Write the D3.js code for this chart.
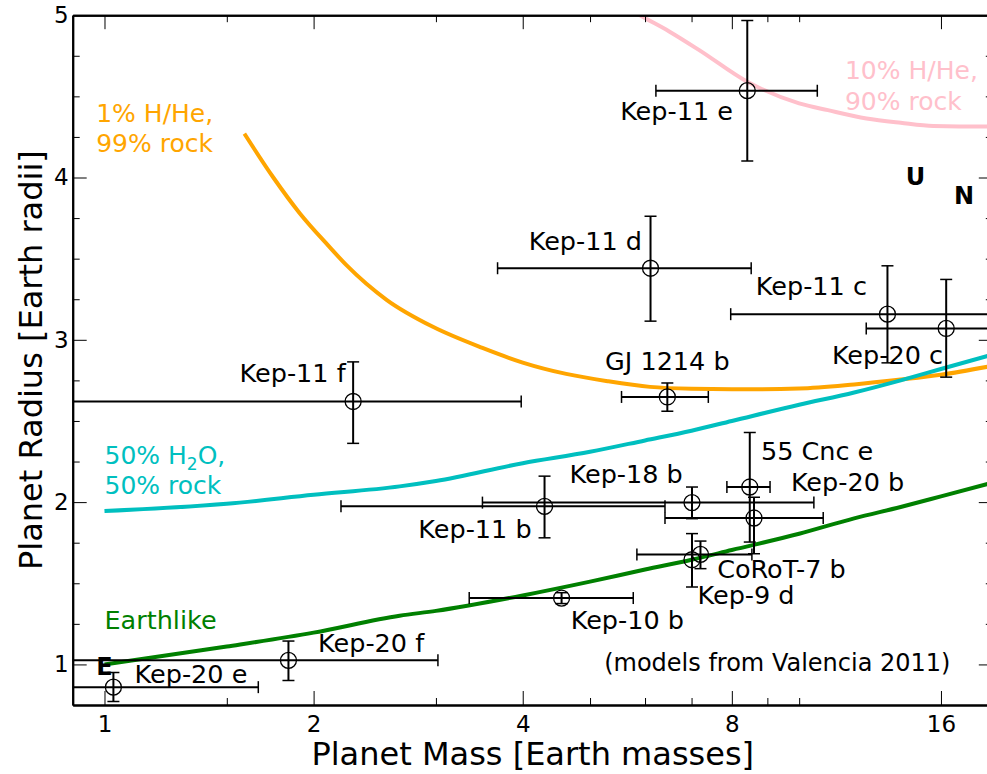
<!DOCTYPE html>
<html>
<head>
<meta charset="utf-8">
<script src="https://cdn.jsdelivr.net/npm/d3@7.9.0/dist/d3.min.js"></script>
<style>
  body { margin: 0; background: #fff; }
  svg { display: block; font-family: 'DejaVu Sans', sans-serif; }
  .axis .domain { stroke: #000; stroke-width: 2; }
  .axis line { stroke: #000; stroke-width: 1; }
  .axis text { font-size: 23px; fill: #000; font-family: 'DejaVu Sans', sans-serif; }
</style>
</head>
<body>
<svg id="chart" width="987" height="774"></svg>
<script>
// measured planets (mass, radius in Earth units, with error bounds)
const names   = ['Kep-11 b', 'Kep-11 c', 'Kep-11 d', 'Kep-11 e', 'Kep-11 f', 'Kep-18 b', 'Kep-20 b', 'Kep-20 c',
                 'Kep-20 e', 'Kep-20 f', 'Kep-10 b', 'Kep-9 d', 'CoRoT-7 b', 'GJ 1214 b', '55 Cnc e'];
const mass    = [4.30, 13.4, 6.11, 8.42, 2.28, 7.01, 8.61, 16.28, 1.03, 1.84, 4.55, 7.01, 7.21, 6.46, 8.49];
const massLo  = [2.19, 7.97, 3.68, 6.22, 0.60, 3.50, 6.41, 12.49, 0.60, 0.60, 3.35, null, 5.84, 5.55, 7.87];
const massHi  = [6.41, 21.0, 8.53, 10.62, 3.98, 10.5, 10.83, 21.0, 1.665, 3.02, 5.77, null, 8.55, 7.40, 9.08];
const radius  = [1.974, 3.158, 3.441, 4.535, 2.62, 1.997, 1.902, 3.07, 0.86, 1.025, 1.409, 1.645, 1.678, 2.648, 2.093];
const radLo   = [1.78, 2.858, 3.115, 4.101, 2.362, 1.898, 1.682, 2.77, 0.772, 0.901, 1.375, 1.477, 1.59, 2.56, 1.754];
const radHi   = [2.16, 3.456, 3.762, 4.967, 2.864, 2.093, 2.03, 3.372, 0.951, 1.144, 1.442, 1.806, 1.76, 2.734, 2.429];

// where each planet name sits (data units) and how it is anchored
const labelMass   = [4.12, 12.52, 5.94, 8.03, 2.224, 6.80, 9.73, 16.11, 1.105, 2.03, 4.69, 7.14, 7.62, 6.46, 8.81];
const labelRad    = [1.781, 3.275, 3.552, 4.354, 2.740, 2.120, 2.067, 2.854, 0.887, 1.076, 1.220, 1.370, 1.535, 2.813, 2.258];
const labelAnchor = ['end', 'end', 'end', 'end', 'end', 'end', 'start', 'end', 'start', 'start', 'start', 'start', 'start', 'middle', 'start'];

// composition models (Valencia 2011)
const earthMass = [1, 1.5, 2, 2.66, 3, 4, 5, 6, 7, 8, 10, 12, 14, 16, 19];
const earthRad  = [1.0, 1.11, 1.196, 1.30, 1.33, 1.425, 1.51, 1.585, 1.645, 1.705, 1.805, 1.90, 1.97, 2.035, 2.12];
const waterMass = [1, 1.5, 2, 2.66, 3, 4, 5, 6, 7, 8, 10, 12, 14, 16, 19];
const waterRad  = [1.945, 1.99, 2.045, 2.097, 2.13, 2.24, 2.31, 2.38, 2.44, 2.50, 2.60, 2.675, 2.75, 2.82, 2.91];
const hhe1Mass  = [1.59, 1.75, 1.91, 2.1, 2.23, 2.55, 2.97, 3.5, 4, 4.62, 5.3, 6.1, 7, 8, 10, 12, 14, 16, 19];
const hhe1Rad   = [4.27, 4.0, 3.78, 3.58, 3.46, 3.245, 3.08, 2.95, 2.86, 2.79, 2.745, 2.71, 2.698, 2.695, 2.70, 2.725, 2.755, 2.785, 2.84];
const hhe10Mass = [5.5, 5.9, 6.5, 7.18, 8.42, 10, 11, 12.5, 14, 15.6, 17, 19];
const hhe10Rad  = [5.08, 5.0, 4.90, 4.785, 4.59, 4.457, 4.415, 4.364, 4.337, 4.317, 4.315, 4.315];

// solar system reference letters
const ssLetter = ['E', 'U', 'N'];
const ssMass   = [1.0, 14.71, 17.27];
const ssRad    = [0.99, 4.01, 3.888];

// ticks
const xMajor = [1, 2, 4, 8, 16];
const xMinor = [1.5, 3, 5, 6, 7, 9, 10];
const yMajor = [1, 2, 3, 4, 5];
const yMinor = [1.25, 1.5, 1.75, 2.25, 2.5, 2.75, 3.25, 3.5, 3.75, 4.25, 4.5, 4.75];

const svg = d3.select('#chart');
const plotLeft = 72.7, plotRight = 992.8, plotTop = 15.2, plotBottom = 705;

const x = d3.scaleLog().base(2).domain([0.9, 19]).range([plotLeft, plotRight]);
const y = d3.scaleLinear().domain([0.75, 5]).range([plotBottom, plotTop]);

svg.append('clipPath').attr('id', 'plot-clip')
  .append('rect')
  .attr('x', plotLeft).attr('y', plotTop)
  .attr('width', plotRight - plotLeft).attr('height', plotBottom - plotTop);

const plot = svg.append('g').attr('clip-path', 'url(#plot-clip)');

// model curves
const line = d3.line().curve(d3.curveMonotoneX);
function drawModel(ms, rs, color) {
  plot.append('path')
    .attr('d', line(ms.map((m, i) => [x(m), y(rs[i])])))
    .attr('fill', 'none')
    .attr('stroke', color)
    .attr('stroke-width', 4);
}
drawModel(hhe10Mass, hhe10Rad, 'pink');
drawModel(hhe1Mass, hhe1Rad, 'orange');
drawModel(waterMass, waterRad, '#00bfbf');
drawModel(earthMass, earthRad, 'green');

// error bars + markers
const cap = 6;
names.forEach((name, i) => {
  const cx = x(mass[i]), cy = y(radius[i]);
  const g = plot.append('g').attr('stroke', '#000').attr('fill', 'none');
  if (massLo[i] !== null) {
    const x0 = x(massLo[i]), x1 = x(massHi[i]);
    g.append('line').attr('x1', x0).attr('x2', x1).attr('y1', cy).attr('y2', cy).attr('stroke-width', 2);
    [x0, x1].forEach(xx => g.append('line')
      .attr('x1', xx).attr('x2', xx).attr('y1', cy - cap).attr('y2', cy + cap).attr('stroke-width', 1.5));
  }
  const y0 = y(radLo[i]), y1 = y(radHi[i]);
  g.append('line').attr('x1', cx).attr('x2', cx).attr('y1', y0).attr('y2', y1).attr('stroke-width', 2);
  [y0, y1].forEach(yy => g.append('line')
    .attr('x1', cx - cap).attr('x2', cx + cap).attr('y1', yy).attr('y2', yy).attr('stroke-width', 1.5));
  g.append('circle').attr('cx', cx).attr('cy', cy).attr('r', 8).attr('stroke-width', 1.3);
});

// planet names
names.forEach((name, i) => {
  svg.append('text')
    .attr('x', x(labelMass[i]))
    .attr('y', y(labelRad[i]))
    .attr('text-anchor', labelAnchor[i])
    .attr('font-size', 25.5)
    .attr('fill', '#000')
    .text(name);
});

// solar system letters
ssLetter.forEach((s, i) => {
  svg.append('text')
    .attr('x', x(ssMass[i]))
    .attr('y', y(ssRad[i]))
    .attr('dy', '0.36em')
    .attr('text-anchor', 'middle')
    .attr('font-size', 24)
    .attr('font-weight', 'bold')
    .text(s);
});

// model labels
function twoLine(m, r, color, first, second) {
  const t = svg.append('text')
    .attr('x', x(m)).attr('y', y(r))
    .attr('font-size', 25).attr('fill', color);
  t.append('tspan').attr('x', x(m)).text(first);
  t.append('tspan').attr('x', x(m)).attr('dy', 30.5).text(second);
}
twoLine(0.973, 4.343, 'orange', '1% H/He,', '99% rock');
twoLine(11.64, 4.606, 'pink', '10% H/He,', '90% rock');
{
  const t = svg.append('text')
    .attr('x', x(1.0)).attr('y', y(2.233))
    .attr('font-size', 25).attr('fill', '#00bfbf');
  t.append('tspan').text('50% H');
  t.append('tspan').attr('dy', 6).attr('font-size', 17).text('2');
  t.append('tspan').attr('dy', -6).text('O,');
  t.append('tspan').attr('x', x(1.0)).attr('dy', 30).text('50% rock');
}
svg.append('text')
  .attr('x', x(1.0)).attr('y', y(1.216))
  .attr('font-size', 25.5).attr('fill', 'green')
  .text('Earthlike');
svg.append('text')
  .attr('x', x(5.24)).attr('y', y(0.959))
  .attr('font-size', 24).attr('fill', '#000')
  .text('(models from Valencia 2011)');

// axes, ticks pointing inward on all four sides
const fmt = d3.format('d');

svg.append('g').attr('class', 'axis')
  .attr('transform', `translate(0,${plotBottom})`)
  .call(d3.axisBottom(x).tickValues(xMinor).tickSizeInner(-7).tickSizeOuter(0).tickFormat(''));
svg.append('g').attr('class', 'axis')
  .attr('transform', `translate(0,${plotBottom})`)
  .call(d3.axisBottom(x).tickValues(xMajor).tickSizeInner(-14).tickSizeOuter(0).tickPadding(11).tickFormat(fmt));

svg.append('g').attr('class', 'axis')
  .attr('transform', `translate(0,${plotTop})`)
  .call(d3.axisTop(x).tickValues(xMinor).tickSizeInner(-7).tickSizeOuter(0).tickFormat(''));
svg.append('g').attr('class', 'axis')
  .attr('transform', `translate(0,${plotTop})`)
  .call(d3.axisTop(x).tickValues(xMajor).tickSizeInner(-14).tickSizeOuter(0).tickFormat(''));

svg.append('g').attr('class', 'axis')
  .attr('transform', `translate(${plotLeft},0)`)
  .call(d3.axisLeft(y).tickValues(yMinor).tickSizeInner(-7).tickSizeOuter(0).tickFormat(''));
svg.append('g').attr('class', 'axis')
  .attr('transform', `translate(${plotLeft},0)`)
  .call(d3.axisLeft(y).tickValues(yMajor).tickSizeInner(-14).tickSizeOuter(0).tickPadding(4).tickFormat(fmt));

svg.append('g').attr('class', 'axis')
  .attr('transform', `translate(${plotRight},0)`)
  .call(d3.axisRight(y).tickValues(yMinor).tickSizeInner(-7).tickSizeOuter(0).tickFormat(''));
svg.append('g').attr('class', 'axis')
  .attr('transform', `translate(${plotRight},0)`)
  .call(d3.axisRight(y).tickValues(yMajor).tickSizeInner(-14).tickSizeOuter(0).tickFormat(''));

// axis titles
svg.append('text')
  .attr('x', (plotLeft + plotRight) / 2).attr('y', 765)
  .attr('text-anchor', 'middle').attr('font-size', 32)
  .text('Planet Mass [Earth masses]');
svg.append('text')
  .attr('transform', `translate(41.5,${(plotTop + plotBottom) / 2}) rotate(-90)`)
  .attr('text-anchor', 'middle').attr('font-size', 32)
  .text('Planet Radius [Earth radii]');
</script>
</body>
</html>
